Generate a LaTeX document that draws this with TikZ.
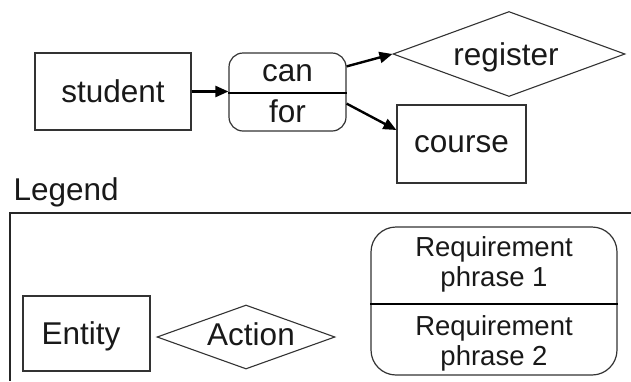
\documentclass[tikz,border=0pt]{standalone}
\usepackage{fontspec}
\setmainfont{Liberation Sans}
\usetikzlibrary{shapes.geometric,arrows.meta}
\begin{document}
\begin{tikzpicture}[x=1pt,y=-1pt,
  every node/.style={text=black!90},
  big/.style={font=\fontsize{31.5}{35}\selectfont},
  small/.style={font=\fontsize{27.5}{30}\selectfont, align=center},
  entitybox/.style={draw=black!80, line width=1.2pt, rectangle, inner sep=0pt, big},
  actionshape/.style={draw=black!80, line width=1.1pt, diamond, inner sep=0pt, big},
  reqbox/.style={draw=black!80, line width=1.2pt, rectangle, rounded corners=#1, inner sep=0pt},
  conn/.style={draw=black, line width=2.4pt, -{Triangle[length=13pt,width=11pt]}},
  frame/.style={draw=black!85, line width=1.5pt}]
\useasboundingbox[fill=white] (0,0) rectangle (631,381);

% main diagram
\node[entitybox, minimum width=156pt, minimum height=77pt] (student) at (113,91.5) {student};
\node[reqbox=14pt, minimum width=117pt, minimum height=78pt] (canfor) at (287.5,92) {};
\draw[draw=black, line width=1.3pt] (canfor.west |- 0,93) -- (canfor.east |- 0,93);
\node[big] (can) at (287.5,73) {can};
\node[big] (for) at (287.5,111) {for};
\node[actionshape, shape aspect=2.73, minimum width=232pt, minimum height=85pt] (register) at (509,54) {};
\node[big] (registertext) at (506,57) {register};
\node[entitybox, minimum width=129pt, minimum height=78pt] (course) at (461.5,144) {course};

\draw[conn] (student.east) -- (canfor.west |- student.east);
\draw[conn] ([yshift=-14pt]canfor.north east) -- (register.west);
\draw[conn] ([yshift=28pt]canfor.south east) -- ([yshift=14pt]course.west);

% legend
\node[big, anchor=west] (legend) at (10,192) {Legend};
\coordinate (fr) at (631,213);
\coordinate (fc) at (10,213);
\coordinate (fb) at (10,381);
\draw[frame] (fr) -- (fc) -- (fb);

\node[entitybox, minimum width=127pt, minimum height=75pt] (entity) at (86.5,333.5) {};
\node[big] (entitytext) at (81,336) {Entity};
\node[actionshape, shape aspect=2.78, minimum width=178pt, minimum height=64pt] (action) at (246,337) {};
\node[big] (actiontext) at (251,334) {Action};
\node[reqbox=25pt, minimum width=246pt, minimum height=148pt] (req) at (494,301) {};
\draw[draw=black, line width=1.3pt] (req.west |- 0,304) -- (req.east |- 0,304);
\node[small] (req1) at (494,264) {Requirement\\phrase 1};
\node[small] (req2) at (494,343) {Requirement\\phrase 2};
\end{tikzpicture}
\end{document}
